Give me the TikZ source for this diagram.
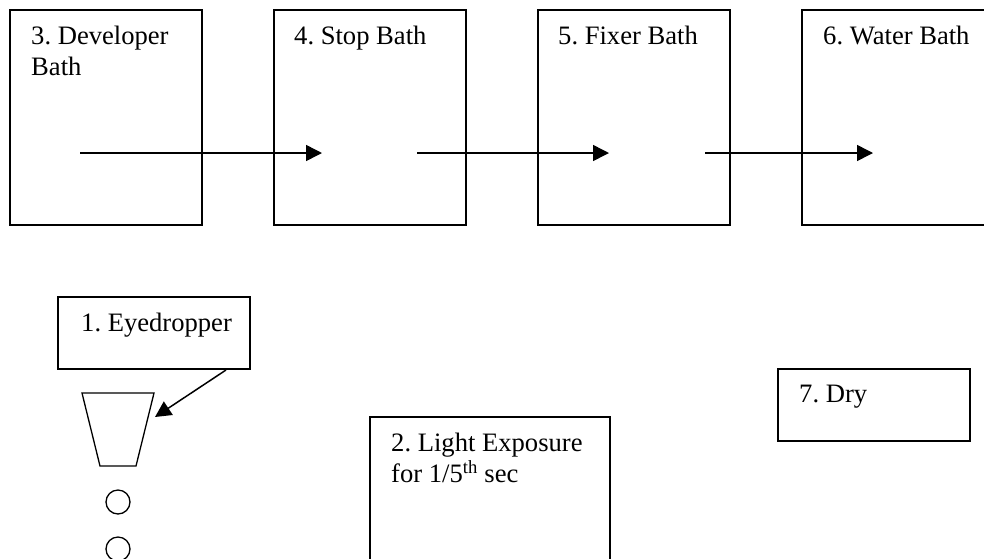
\documentclass[tikz,border=0pt]{standalone}
\usepackage{fontspec}
\setmainfont{Liberation Serif}
\usetikzlibrary{positioning,arrows.meta}

\begin{document}
\begin{tikzpicture}[
    x=1pt, y=-1pt,
    % --- a numbered step: outline only, its text sits in a lbl node ---
    stepbox/.style={draw=black, line width=1.6pt, fill=white, inner sep=0pt, outer sep=0pt,
                    minimum width=192pt, minimum height=215pt},
    lbl/.style={inner sep=0pt, align=left, anchor=north west,
                font=\fontsize{26.6}{31}\selectfont\frenchspacing},
    drop/.style={circle, draw=black, line width=1.3pt, inner sep=0pt, minimum size=24pt},
    flow/.style={-{Triangle[length=16pt,width=16pt]}, black, line width=1.5pt},
  ]
  \useasboundingbox (0,0) rectangle (984,558);
  \clip (0,0) rectangle (984,558);

  % ---- the baths, left to right ----
  \node[stepbox, anchor=north west] (dev) at (10,10) {};
  \node[stepbox, right=72pt of dev] (stop) {};
  \node[stepbox, right=72pt of stop] (fixer) {};
  \node[stepbox, right=72pt of fixer] (water) {};
  \node[lbl, below right=16pt and 21pt of dev.north west] (devlbl) {3. Developer\\Bath};
  \node[lbl, below right=16pt and 20pt of stop.north west] (stoplbl) {4. Stop Bath};
  \node[lbl, below right=16pt and 20pt of fixer.north west] (fixerlbl) {5. Fixer Bath};
  \node[lbl, below right=16pt and 21pt of water.north west] (waterlbl) {6. Water Bath};

  % ---- the free ends of the long arrows ----
  \coordinate (s1) at (80,153);
  \coordinate (e1) at (322,153);
  \coordinate (s2) at (417,153);
  \coordinate (e2) at (609,153);
  \coordinate (s3) at (705,153);
  \coordinate (e3) at (873,153);
  \draw[flow] (s1) -- (e1);
  \draw[flow] (s2) -- (e2);
  \draw[flow] (s3) -- (e3);

  % ---- eyedropper ----
  \node[stepbox, anchor=north west, minimum height=72pt] (eye) at (58,297) {};
  \node[lbl, below right=16pt and 23pt of eye.north west] (eyelbl) {1. Eyedropper};
  \draw[line width=1.3pt] (82,393) -- (154,393) -- (136,466) -- (100,466) -- cycle;
  \node[drop] (dropa) at (118,502) {};
  \node[drop] (dropb) at (118,549) {};
  \coordinate (eyeout) at (226,370);
  \coordinate (eyetip) at (155,417);
  \draw[flow] (eyeout) -- (eyetip);

  % ---- exposure and drying ----
  \node[stepbox, anchor=north west, minimum width=240pt] (expo) at (370,417) {};
  \node[lbl, below right=16pt and 21pt of expo.north west] (expolbl)
        {2. Light Exposure\\for 1/5\textsuperscript{th} sec};
  \node[stepbox, anchor=north west, minimum width=192pt, minimum height=72pt] (dry) at (778,369) {};
  \node[lbl, below right=16pt and 21pt of dry.north west] (drylbl) {7. Dry};
\end{tikzpicture}
\end{document}
